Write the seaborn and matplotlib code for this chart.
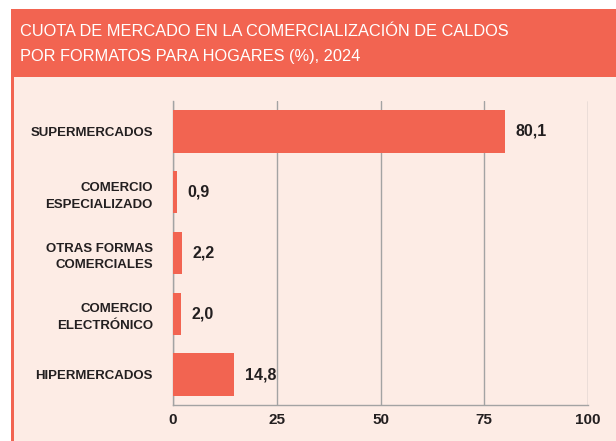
import matplotlib
matplotlib.use("Agg")
import matplotlib.pyplot as plt
import matplotlib.patches as mpatches
import seaborn as sns
import pandas as pd

# Data
categorias = ["SUPERMERCADOS", "COMERCIO\nESPECIALIZADO", "OTRAS FORMAS\nCOMERCIALES",
              "COMERCIO\nELECTRÓNICO", "HIPERMERCADOS"]
cuota = [80.1, 0.9, 2.2, 2.0, 14.8]
ticks = [0, 25, 50, 75, 100]
titulo = ["CUOTA DE MERCADO EN LA COMERCIALIZACIÓN DE CALDOS",
          "POR FORMATOS PARA HOGARES (%), 2024"]

CORAL = "#F26451"
BODY = "#FDECE5"
GRID = "#A3A3A3"
TXT = "#231F20"

sns.set_theme(style="white")
plt.rcParams['font.family'] = ['Liberation Sans', 'DejaVu Sans']

df = pd.DataFrame({"formato": categorias, "cuota": cuota})

fig = plt.figure(figsize=(6.16, 4.41), dpi=100)
fig.patch.set_facecolor("white")

# header and body panels
for rect, col in [((11 / 616, 0, 1, 1 - 77 / 441), BODY),
                  ((11 / 616, 1 - 77 / 441, 1, 68 / 441), CORAL),
                  ((11 / 616, 0, 2.5 / 616, 1 - 9 / 441), CORAL)]:
    fig.patches.append(mpatches.Rectangle(rect[:2], rect[2], rect[3], transform=fig.transFigure,
                                          facecolor=col, edgecolor="none", zorder=-5))

for k, line in enumerate(titulo):
    fig.text(20 / 616, 1 - (31 + 26 * k) / 441, line, color="white", fontsize=11.8,
             va="center", ha="left")

ax = fig.add_axes([173 / 616, 1 - 405 / 441, 415 / 616, 304 / 441])
ax.set_facecolor("none")
sns.barplot(data=df, x="cuota", y="formato", color=CORAL, saturation=1, width=0.7,
            edgecolor="none", linewidth=0, ax=ax, zorder=3)

ax.set_xlim(0, 100)
ax.set_xticks(ticks)
ax.set_xticklabels([str(t) for t in ticks], fontsize=11, fontweight="bold", color=TXT)
ax.set_yticklabels(categorias, fontsize=9.5, fontweight="bold", color=TXT, linespacing=1.55)
ax.tick_params(axis="both", length=0)
ax.tick_params(axis="y", pad=14.5)
ax.tick_params(axis="x", pad=6)
ax.set_xlabel("")
ax.set_ylabel("")

ax.xaxis.grid(True, color=GRID, linewidth=1)
ax.set_axisbelow(True)
for side in ["top", "right"]:
    ax.spines[side].set_visible(False)
for side in ["left", "bottom"]:
    ax.spines[side].set_color(GRID)
    ax.spines[side].set_linewidth(1)

for i, v in enumerate(cuota):
    ax.annotate(f"{v:.1f}".replace(".", ","), xy=(v, i), xytext=(7.5, 0), textcoords="offset points",
                ha="left", va="center", fontsize=11.5, fontweight="bold", color=TXT)

fig.savefig("out.png", dpi=100, facecolor=fig.get_facecolor())
